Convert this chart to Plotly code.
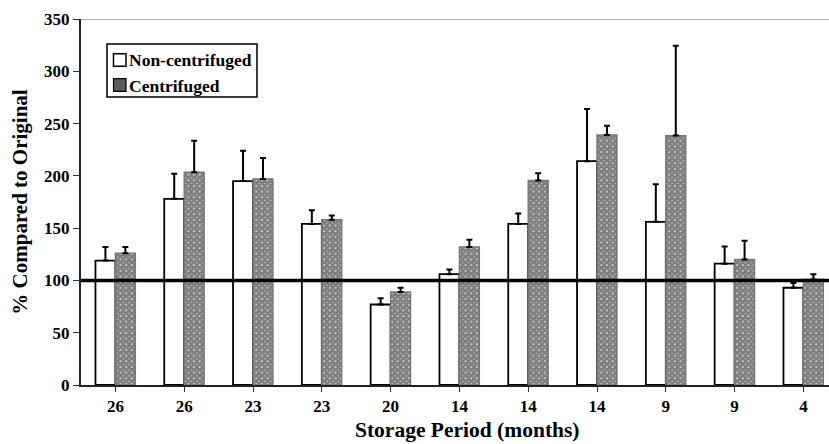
import plotly.graph_objects as go

# Storage period of each sample pair (months)
storage_months = ["26", "26", "23", "23", "20", "14", "14", "14", "9", "9", "4"]

# Percent of original value, with upper standard deviation
non_centrifuged = [119, 178, 195, 154, 77, 106, 154, 214, 156, 116, 93]
non_centrifuged_err = [13, 24, 29, 13, 6, 4.5, 10, 50, 36, 16.5, 4.5]
centrifuged = [126, 203.5, 197, 158, 89, 132, 195.5, 239, 238.5, 120, 101]
centrifuged_err = [6, 30, 20, 4, 4, 7, 7, 9, 86, 18, 5]

series_names = ["Non-centrifuged", "Centrifuged"]
reference_level = 100

x_idx = list(range(len(storage_months)))
font_family = "Liberation Serif"

# Figure / plot-area geometry in pixels
W, H = 829, 444
M_L, M_R, M_T, M_B = 81, 0, 19, 59
PW, PH = W - M_L - M_R, H - M_T - M_B


def px_x(x):
    return (x - M_L) / PW


def px_y(y):
    return (H - M_B - y) / PH


fig = go.Figure()

fig.add_trace(go.Bar(
    name=series_names[0],
    x=x_idx,
    y=non_centrifuged,
    marker=dict(color="white", line=dict(color="black", width=1.8)),
    error_y=dict(type="data", array=non_centrifuged_err,
                 arrayminus=[0] * len(non_centrifuged_err), symmetric=False,
                 color="black", thickness=2, width=3),
))

fig.add_trace(go.Bar(
    name=series_names[1],
    x=x_idx,
    y=centrifuged,
    marker=dict(color="white", line=dict(color="#777777", width=1.4),
                pattern=dict(shape="x", size=4, solidity=0.9,
                             fgcolor="black", bgcolor="white")),
    error_y=dict(type="data", array=centrifuged_err,
                 arrayminus=[0] * len(centrifuged_err), symmetric=False,
                 color="black", thickness=2, width=3),
))

# Reference level (100 % of original)
fig.add_shape(type="line", xref="paper", yref="y", x0=0, x1=1,
              y0=reference_level, y1=reference_level,
              line=dict(color="black", width=3.5), layer="above")

# Upper frame line
fig.add_shape(type="line", xref="paper", yref="y", x0=0, x1=1,
              y0=350, y1=350, line=dict(color="#999999", width=1.5),
              layer="above")

# Legend box with swatches and labels
fig.add_shape(type="rect", xref="paper", yref="paper",
              x0=px_x(107), x1=px_x(257), y0=px_y(97), y1=px_y(44),
              line=dict(color="black", width=1.5), fillcolor="white",
              layer="above")
swatch_styles = [
    dict(fillcolor="white", line=dict(color="black", width=1.5)),
    dict(fillcolor="#5a5a5a", line=dict(color="black", width=1.2)),
]
for i, (name, style) in enumerate(zip(series_names, swatch_styles)):
    cy = 60 + 25 * i
    fig.add_shape(type="rect", xref="paper", yref="paper",
                  x0=px_x(113.5), x1=px_x(126), y0=px_y(cy + 6.3),
                  y1=px_y(cy - 6.3), layer="above", **style)
    fig.add_annotation(text=f"<b>{name}</b>", xref="paper", yref="paper",
                       x=px_x(126.5), y=px_y(cy + 0.5), xanchor="left",
                       yanchor="middle", showarrow=False,
                       font=dict(family=font_family, size=17.5, color="black"))

# Horizontal axis title
fig.add_annotation(text="<b>Storage Period (months)</b>", xref="paper",
                   yref="paper", x=px_x(468), y=px_y(444), xanchor="center",
                   yanchor="bottom", showarrow=False,
                   font=dict(family=font_family, size=21.5, color="black"))

fig.update_layout(
    width=W, height=H,
    margin=dict(l=M_L, r=M_R, t=M_T, b=M_B),
    paper_bgcolor="white", plot_bgcolor="white",
    barmode="group", bargap=0.42, bargroupgap=0,
    font=dict(family=font_family, size=17, color="black"),
    showlegend=False,
    xaxis=dict(
        range=[-0.5, -0.5 + PW / 68.8],
        tickmode="array", tickvals=x_idx,
        ticktext=[f"<b>{m}</b>" for m in storage_months],
        tickson="boundaries", ticks="outside", ticklen=5, tickwidth=1.2,
        tickcolor="#333333",
        showline=True, linecolor="#222222", linewidth=2,
        showgrid=False, zeroline=False,
        tickfont=dict(family=font_family, size=17, color="black"),
    ),
    yaxis=dict(
        range=[0, 350], tickmode="linear", tick0=0, dtick=50,
        tickprefix="<b>", ticksuffix="</b>",
        ticks="outside", ticklen=6, tickwidth=1.2, tickcolor="#333333",
        showline=True, linecolor="#222222", linewidth=2,
        showgrid=False, zeroline=False,
        tickfont=dict(family=font_family, size=17, color="black"),
        title=dict(text="<b>% Compared to Original</b>", standoff=11,
                   font=dict(family=font_family, size=21, color="black")),
    ),
)

fig.write_html("out.html")
